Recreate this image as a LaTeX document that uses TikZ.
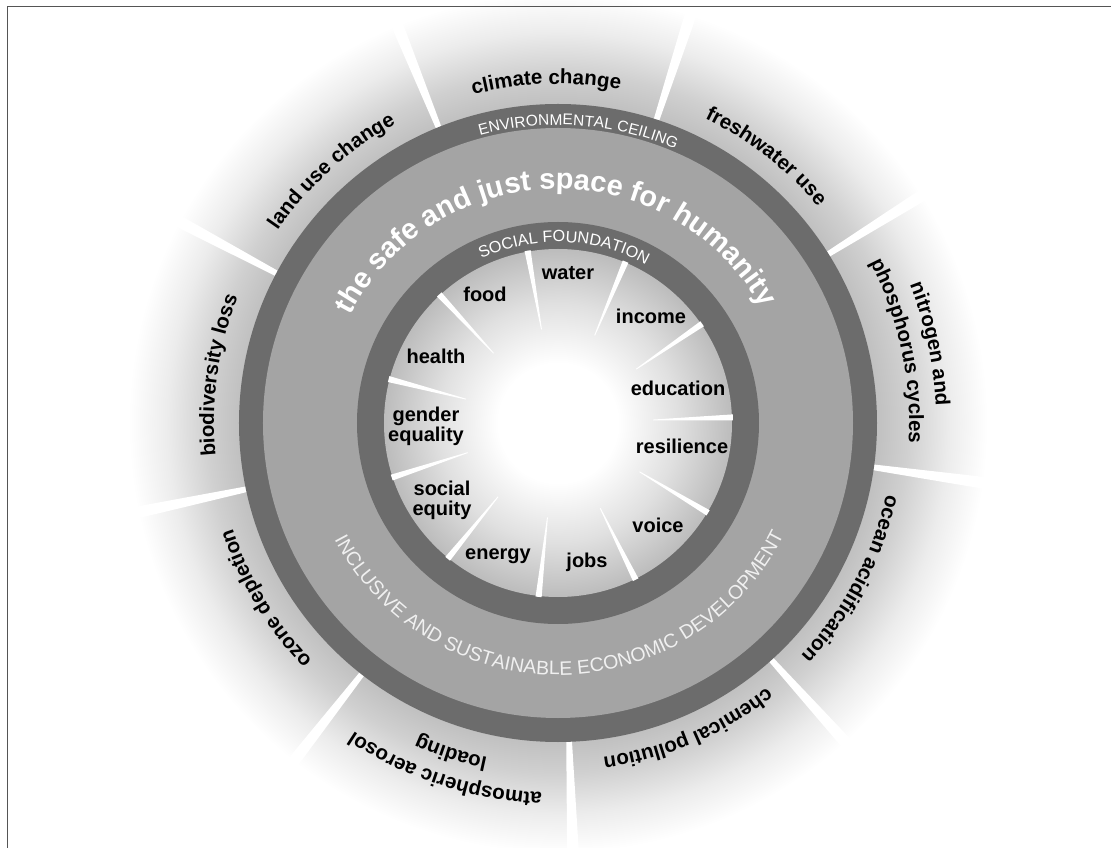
\documentclass[tikz,border=0pt]{standalone}
\usepackage{fontspec}
\setmainfont{Liberation Sans}
\usetikzlibrary{decorations.text}
\definecolor{ringdark}{HTML}{6C6C6C}
\definecolor{ringlight}{HTML}{A4A4A4}
\definecolor{glowA}{HTML}{C0C0C0}
\definecolor{glowB}{HTML}{D0D0D0}
\definecolor{glowC}{HTML}{ECECEC}
\definecolor{diskB}{HTML}{E0E0E0}
\definecolor{diskC}{HTML}{BCBCBC}
\definecolor{framegray}{HTML}{555555}
\definecolor{bandtext}{HTML}{F0F0F0}
% the central 50bp square of a shading is stretched onto the path: radius R <-> 25bp
\pgfdeclareradialshading{outerglow}{\pgfpoint{0bp}{0bp}}{%
  color(0bp)=(glowA); color(18.1bp)=(glowA); color(19.9bp)=(glowB); color(22.2bp)=(glowC); color(24.4bp)=(white); color(50bp)=(white)}
\pgfdeclareradialshading{diskglow}{\pgfpoint{0bp}{0bp}}{%
  color(0bp)=(white); color(8.6bp)=(white); color(17.2bp)=(diskB); color(25bp)=(diskC); color(50bp)=(diskC)}
\newcommand\outerlabelfont{\fontsize{20.5}{24}\selectfont\bfseries}
\newcommand\innerlabelfont{\fontsize{20}{20}\selectfont\bfseries}
\newcommand\ceilingfont{\fontsize{15.5}{18}\selectfont}
\newcommand\foundationfont{\fontsize{16.2}{18}\selectfont}
\newcommand\spacefont{\fontsize{29}{34}\selectfont\bfseries}
\newcommand\economyfont{\fontsize{19.5}{22}\selectfont}
\begin{document}
\begin{tikzpicture}[x=1pt,y=1pt,
  innerlabel/.style={font=\innerlabelfont, align=center, inner sep=0pt, text=black},
  outerspoke/.style={fill=white},
  innerspoke/.style={fill=white},
  curvedlabel/.style={decorate, decoration={text along path, text align=center, text={#1}}},
  curvedwhite/.style={decorate, decoration={text along path, text align=center, text color=white, text={#1}}},
  curvedsoft/.style={decorate, decoration={text along path, text align=center, text color=bandtext, text={#1}}},
]
\useasboundingbox (-558,-425) rectangle (553,423);
% outer glow
\shade[shading=outerglow] (0,0) circle[radius=440pt];
% outer spokes
\foreach \a in {112,72,32,-8,-48,-88,-128,-168,152}{
  \fill[outerspoke] ({\a-0.5}:315pt) -- ({\a-0.8}:440pt) -- ({\a+0.8}:440pt) -- ({\a+0.5}:315pt) -- cycle;
}
% rings
\fill[ringdark] (0,0) circle[radius=319pt];
\fill[ringlight] (0,0) circle[radius=295pt];
\fill[ringdark] (0,0) circle[radius=201pt];
\shade[shading=diskglow] (0,0) circle[radius=174pt];
% inner spokes
\foreach \k in {0,...,10}{
  \pgfmathsetmacro\spokeang{100-\k*360/11}
  \fill[innerspoke] ({\spokeang-1.0}:175pt) -- ({\spokeang-0.25}:95pt) -- ({\spokeang+0.25}:95pt) -- ({\spokeang+1.0}:175pt) -- cycle;
}
% outer labels (planetary boundaries)
\path[curvedlabel={|\outerlabelfont|climate change}] (152:339pt) arc[start angle=152, end angle=32, radius=339pt];
\path[curvedlabel={|\outerlabelfont|freshwater use}] (112:338pt) arc[start angle=112, end angle=-8, radius=338pt];
\path[curvedlabel={|\outerlabelfont|nitrogen and}] (72:378pt) arc[start angle=72, end angle=-48, radius=378pt];
\path[curvedlabel={|\outerlabelfont|phosphorus cycles}] (72:351pt) arc[start angle=72, end angle=-48, radius=351pt];
\path[curvedlabel={|\outerlabelfont|ocean acidification}] (32:336pt) arc[start angle=32, end angle=-88, radius=336pt];
\path[curvedlabel={|\outerlabelfont|chemical pollution}] (-7:337pt) arc[start angle=-7, end angle=-127, radius=337pt];
\path[curvedlabel={|\outerlabelfont|atmospheric aerosol}] (-48:370pt) arc[start angle=-48, end angle=-168, radius=370pt];
\path[curvedlabel={|\outerlabelfont|loading}] (-48:342pt) arc[start angle=-48, end angle=-168, radius=342pt];
\path[curvedlabel={|\outerlabelfont|ozone depletion}] (-89:342pt) arc[start angle=-89, end angle=-209, radius=342pt];
\path[curvedlabel={|\outerlabelfont|biodiversity loss}] (232:344pt) arc[start angle=232, end angle=112, radius=344pt];
\path[curvedlabel={|\outerlabelfont|land use change}] (192:340pt) arc[start angle=192, end angle=72, radius=340pt];
% ring texts
\path[curvedwhite={|\ceilingfont|ENVIRONMENTAL CEILING}] (146:298pt) arc[start angle=146, end angle=26, radius=298pt];
\path[curvedwhite={|\spacefont|the safe and just space for humanity}] (176:234pt) arc[start angle=176, end angle=6, radius=234pt];
\path[curvedwhite={|\foundationfont|SOCIAL FOUNDATION}] (148:181pt) arc[start angle=148, end angle=28, radius=181pt];
\path[curvedsoft={|\economyfont|INCLUSIVE AND SUSTAINABLE ECONOMIC DEVELOPMENT}] (185.6:252pt) arc[start angle=185.6, end angle=355.6, radius=252pt];
% inner labels (social foundation)
\node[innerlabel] (food) at (-73,129) {food};
\node[innerlabel] (water) at (10,150) {water};
\node[innerlabel] (income) at (93,107) {income};
\node[innerlabel] (health) at (-122,67) {health};
\node[innerlabel] (education) at (120,35) {education};
\node[innerlabel] (gender) at (-132,-3) {gender\\equality};
\node[innerlabel] (resilience) at (124,-23) {resilience};
\node[innerlabel] (equity) at (-116,-77) {social\\equity};
\node[innerlabel] (voice) at (100,-102) {voice};
\node[innerlabel] (energy) at (-60,-133) {energy};
\node[innerlabel] (jobs) at (29,-139) {jobs};
% frame (top and left edges), drawn last so the glow does not cover it
\draw[framegray, line width=1.5pt] (-550.5,-425) -- (-550.5,416.5) -- (553,416.5);
\end{tikzpicture}
\end{document}
